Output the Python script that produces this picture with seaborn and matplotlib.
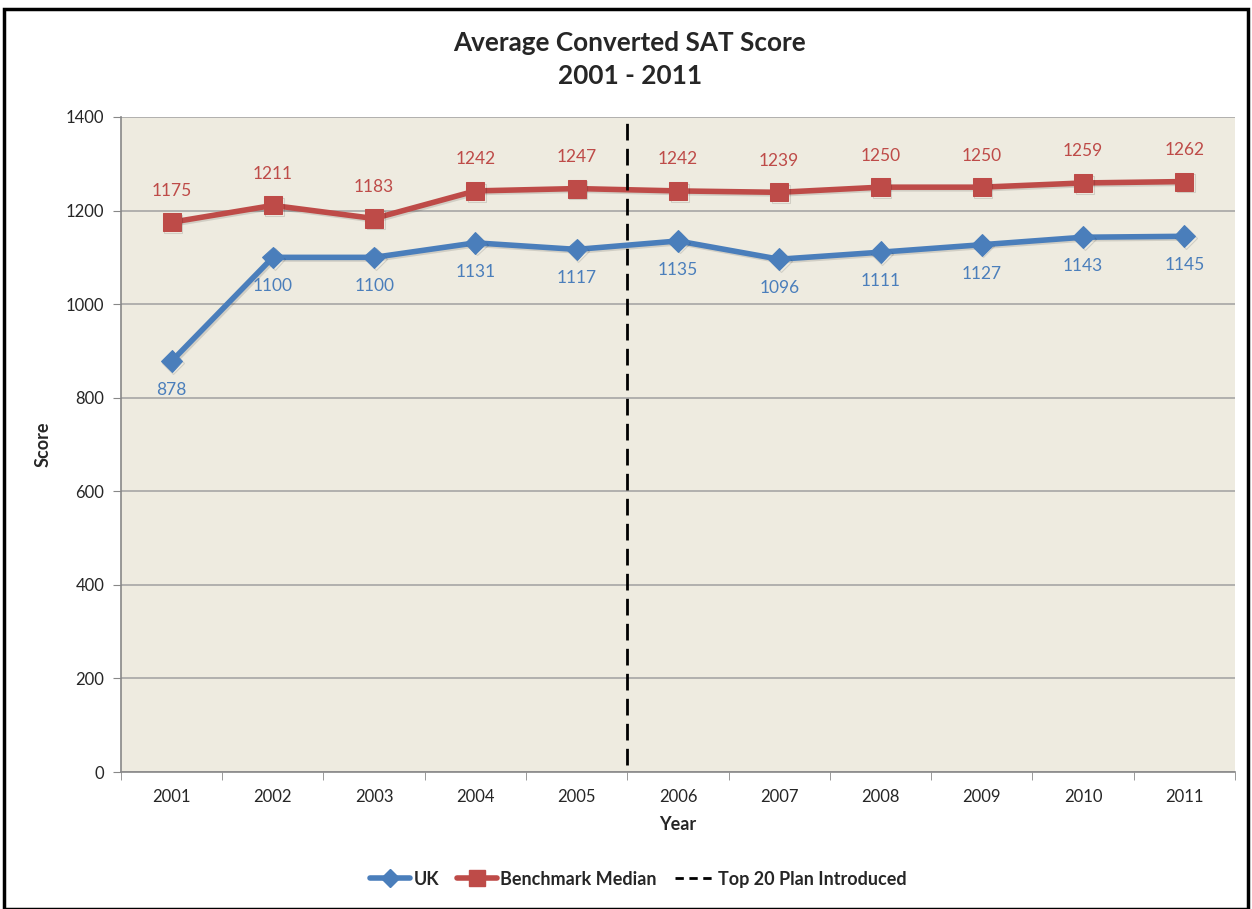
import matplotlib
matplotlib.use("Agg")
import matplotlib.pyplot as plt
import matplotlib.patheffects as pe
from matplotlib.lines import Line2D
import pandas as pd
import seaborn as sns

# data
years = ["2001", "2002", "2003", "2004", "2005", "2006", "2007", "2008", "2009", "2010", "2011"]
uk = [878, 1100, 1100, 1131, 1117, 1135, 1096, 1111, 1127, 1143, 1145]
benchmark = [1175, 1211, 1183, 1242, 1247, 1242, 1239, 1250, 1250, 1259, 1262]
plan_after = "2005"  # dashed line sits between 2005 and 2006

blue = "#4A7EBB"
red = "#BE4B48"

sns.set_style("white")
plt.rcParams["font.family"] = ["Lato", "DejaVu Sans"]

df = pd.DataFrame({"Year": years, "UK": uk, "Benchmark Median": benchmark})

fig = plt.figure(figsize=(12.52, 9.09), dpi=100)
ax = fig.add_axes([0.0966, 0.1507, 0.8898, 0.7206])
ax.set_facecolor("#EEEBE0")

shadow = [pe.SimpleLineShadow(offset=(1.2, -1.2), alpha=0.12), pe.Normal()]

sns.lineplot(data=df, x="Year", y="Benchmark Median", ax=ax, color=red, lw=4,
             marker="s", markersize=13, markeredgecolor=red, sort=False,
             path_effects=shadow)
sns.lineplot(data=df, x="Year", y="UK", ax=ax, color=blue, lw=4,
             marker="D", markersize=11, markeredgecolor=blue, sort=False,
             path_effects=shadow)

for i, (u, b) in enumerate(zip(uk, benchmark)):
    ax.annotate(str(b), (i, b), xytext=(0, 17), textcoords="offset points",
                ha="center", va="bottom", color=red, fontsize=12.5)
    ax.annotate(str(u), (i, u), xytext=(0, -15), textcoords="offset points",
                ha="center", va="top", color=blue, fontsize=12.5)

xv = years.index(plan_after) + 0.5
ax.plot([xv, xv], [15, 1395], color="black", lw=2, ls=(0, (6, 3)))

ax.set_xlim(-0.5, len(years) - 0.5)
ax.set_ylim(0, 1400)
ax.set_yticks(range(0, 1401, 200))
ax.set_xticks(range(len(years)))
ax.set_xticklabels(years)
ax.set_xticks([i - 0.5 for i in range(len(years) + 1)], minor=True)
ax.tick_params(axis="x", which="major", length=0, pad=12, labelsize=12)
ax.tick_params(axis="x", which="minor", length=6, color="#888888", direction="out", bottom=True)
ax.tick_params(axis="y", length=6, color="#888888", direction="out", left=True, labelsize=12, pad=6)
ax.yaxis.grid(True, color="#A6A6A6", lw=1.2)
ax.set_axisbelow(True)
for s in ["top", "right"]:
    ax.spines[s].set_visible(False)
for s in ["left", "bottom"]:
    ax.spines[s].set_color("#888888")
    ax.spines[s].set_linewidth(1.2)

ax.set_xlabel("Year", fontsize=13, fontweight="bold", labelpad=8)
ax.set_ylabel("Score", fontsize=13, fontweight="bold", labelpad=10)

fig.text(0.503, 0.935, "Average Converted SAT Score\n2001 - 2011", ha="center", va="center",
         fontsize=18.8, fontweight="bold", linespacing=1.45)

handles = [
    Line2D([], [], color=blue, lw=4, marker="D", markersize=9),
    Line2D([], [], color=red, lw=4, marker="s", markersize=11),
    Line2D([], [], color="black", lw=2, ls=(0, (3, 2))),
]
fig.legend(handles, ["UK", "Benchmark Median", "Top 20 Plan Introduced"],
           loc="center", bbox_to_anchor=(0.51, 0.033), ncol=3, frameon=False,
           handlelength=2.2, handletextpad=0.2, columnspacing=1.0,
           prop={"weight": "bold", "size": 13})

fig.patches.append(plt.Rectangle((0.003, 0.0), 0.994, 0.99, transform=fig.transFigure,
                                 fill=False, edgecolor="black", lw=2.5))

fig.savefig("out.png", dpi=100)
